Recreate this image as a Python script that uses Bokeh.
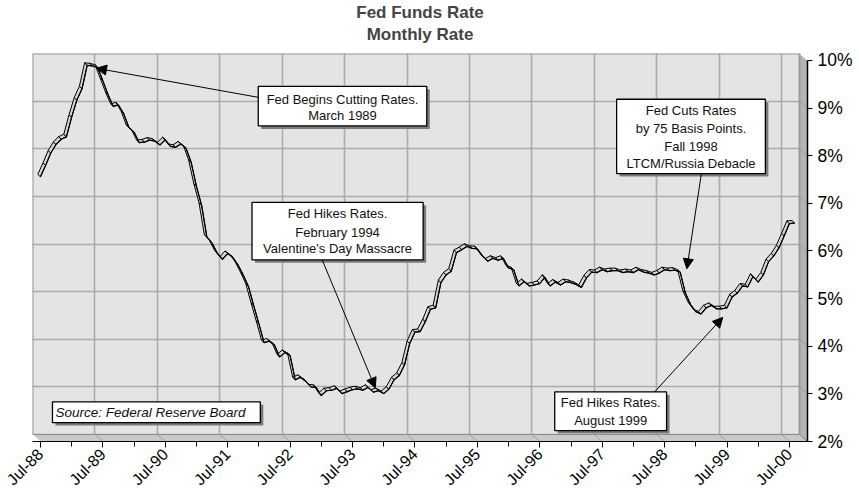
import math
from bokeh.plotting import figure
from bokeh.models import Range1d, LinearAxis, FixedTicker, Grid, Arrow, NormalHead, Title
from bokeh.core.properties import value
from bokeh.embed import file_html
from bokeh.resources import INLINE

# ---------------- data ----------------
# Monthly Fed Funds rate (%), one value per month starting Jun-1988
rates_1988 = [7.51, 7.75, 8.01, 8.19, 8.30, 8.35, 8.76]
rates_1989 = [9.12, 9.36, 9.85, 9.84, 9.81, 9.53, 9.24, 8.99, 9.02, 8.84, 8.55, 8.45]
rates_1990 = [8.23, 8.24, 8.28, 8.26, 8.18, 8.29, 8.15, 8.13, 8.20, 8.11, 7.81, 7.31]
rates_1991 = [6.91, 6.25, 6.12, 5.91, 5.78, 5.90, 5.82, 5.66, 5.45, 5.21, 4.81, 4.43]
rates_1992 = [4.03, 4.06, 3.98, 3.73, 3.82, 3.76, 3.25, 3.30, 3.22, 3.10, 3.09, 2.92]
rates_1993 = [3.02, 3.03, 3.07, 2.96, 3.00, 3.04, 3.06, 3.03, 3.09, 2.99, 3.02, 2.96]
rates_1994 = [3.05, 3.25, 3.34, 3.56, 4.01, 4.25, 4.26, 4.47, 4.73, 4.76, 5.29, 5.45]
rates_1995 = [5.53, 5.92, 5.98, 6.05, 6.01, 6.00, 5.85, 5.74, 5.80, 5.76, 5.80, 5.60]
rates_1996 = [5.56, 5.22, 5.31, 5.22, 5.24, 5.27, 5.40, 5.22, 5.30, 5.24, 5.31, 5.29]
rates_1997 = [5.25, 5.19, 5.39, 5.51, 5.50, 5.56, 5.52, 5.54, 5.54, 5.50, 5.52, 5.50]
rates_1998 = [5.56, 5.51, 5.49, 5.45, 5.49, 5.56, 5.54, 5.55, 5.51, 5.07, 4.83, 4.68]
rates_1999 = [4.63, 4.76, 4.81, 4.74, 4.74, 4.76, 4.99, 5.07, 5.22, 5.20, 5.42, 5.30]
rates_2000 = [5.45, 5.73, 5.85, 6.02, 6.27, 6.53, 6.54]

rates = (rates_1988 + rates_1989 + rates_1990 + rates_1991 + rates_1992 + rates_1993 +
         rates_1994 + rates_1995 + rates_1996 + rates_1997 + rates_1998 + rates_1999 + rates_2000)

x_tick_labels = ["Jul-88", "Jul-89", "Jul-90", "Jul-91", "Jul-92", "Jul-93", "Jul-94",
                 "Jul-95", "Jul-96", "Jul-97", "Jul-98", "Jul-99", "Jul-00"]
y_ticks = [2, 3, 4, 5, 6, 7, 8, 9, 10]
y_tick_labels = ["2%", "3%", "4%", "5%", "6%", "7%", "8%", "9%", "10%"]

title_main = "Fed Funds Rate"
title_sub = "Monthly Rate"
source_text = "Source: Federal Reserve Board"

# annotation callouts (data coordinates: month index, rate)
callouts = [
    dict(lines=["Fed Begins Cutting Rates.", "March 1989"],
         box=(43.4, 75.8, 9.31, 8.48), line_y=[9.04, 8.69],
         arrow=(43.4, 9.08, 12.3, 9.69)),
    dict(lines=["Fed Hikes Rates.", "February 1994", "Valentine's Day Massacre"],
         box=(42.2, 75.1, 6.875, 5.667), line_y=[6.646, 6.25, 5.896],
         arrow=(55.7, 5.667, 65.9, 2.98)),
    dict(lines=["Fed Cuts Rates", "by 75 Basis Points.", "Fall 1998", "LTCM/Russia Debacle"],
         box=(112.3, 140.9, 9.04, 7.48), line_y=[8.81, 8.42, 8.04, 7.69],
         arrow=(128.6, 7.48, 125.8, 5.48)),
    dict(lines=["Fed Hikes Rates.", "August 1999"],
         box=(100.4, 121.9, 2.896, 2.083), line_y=[2.667, 2.292],
         arrow=(119.6, 2.896, 132.7, 4.46)),
]
source_box = (3.84, 43.8, 2.6875, 2.25)

# ---------------- geometry / style ----------------
FONT = "Liberation Sans"
PPX = 62.5 / 12.0      # px per month
PPY = 48.0             # px per percent
WALL_R = 147.46        # right edge of back wall (months)
DX = 8 / PPX           # 3-D depth in x (data units)
DY = 7 / PPY           # 3-D depth in y (data units)
X_END = WALL_R + DX
Y_MIN, Y_MAX = 2.0, 10.0
Y0 = Y_MIN - DY

FRAME_W = int(round(X_END * PPX))
FRAME_H = int(round((Y_MAX - Y0) * PPY))
W, H = 855, 497
BL, BT = 32, 51

p = figure(width=W, height=H, title=None,
           x_range=Range1d(0, X_END), y_range=Range1d(Y0, Y_MAX),
           x_axis_location=None, y_axis_location=None,
           output_backend="svg", toolbar_location=None,
           min_border_left=BL, min_border_top=BT,
           min_border_right=W - BL - FRAME_W, min_border_bottom=H - BT - FRAME_H,
           background_fill_color="#e4e4e4", border_fill_color="white",
           outline_line_color=None)

p.extra_x_ranges = {"front": Range1d(-DX, X_END - DX)}
p.extra_y_ranges = {"front": Range1d(Y0 + DY, Y_MAX + DY)}

x_ticks = [12 * k for k in range(len(x_tick_labels))]
x_minor = [t + 6 for t in x_ticks[:-1]]

p.add_layout(Grid(dimension=0, ticker=FixedTicker(ticks=x_ticks),
                  grid_line_color="#ababab", grid_line_width=1.6))
p.add_layout(Grid(dimension=1, ticker=FixedTicker(ticks=y_ticks),
                  grid_line_color="#ababab", grid_line_width=1.6))

# 3-D floor and side wall
p.patch([0, WALL_R, X_END, DX], [Y_MIN, Y_MIN, Y0, Y0],
        fill_color="#c9c9c9", line_color="#8c8c8c", line_width=1)
p.patch([WALL_R, X_END, X_END, WALL_R], [Y_MAX, Y_MAX - DY, Y0, Y_MIN],
        fill_color="#b4b4b4", line_color="#8c8c8c", line_width=1)
p.segment(x0=x_ticks, y0=[Y_MIN] * len(x_ticks),
          x1=[t + DX for t in x_ticks], y1=[Y0] * len(x_ticks),
          line_color="#a0a0a0", line_width=1)
p.segment(x0=[WALL_R] * len(y_ticks), y0=y_ticks,
          x1=[X_END] * len(y_ticks), y1=[v - DY for v in y_ticks],
          line_color="#9a9a9a", line_width=1)
# white corners outside the 3-D box
p.patch([WALL_R, X_END, X_END], [Y_MAX, Y_MAX, Y_MAX - DY], fill_color="white", line_color="white")
p.patch([0, 0, DX], [Y_MIN, Y0, Y0], fill_color="white", line_color="white")
# back wall border
p.line([0, 0, WALL_R, WALL_R], [Y_MIN, Y_MAX, Y_MAX, Y_MIN], line_color="#9a9a9a", line_width=2)

# ---------------- ribbon line ----------------
mx, my = 4.0 / PPX, 3.5 / PPY      # middle depth
ax_, ay_ = 1.3 / PPX, 1.3 / PPY    # half ribbon thickness
cx = [i + 0.5 + mx for i in range(len(rates))]
cy = [v - my for v in rates]
xs, ys = [], []
for i in range(len(rates) - 1):
    xs.append([cx[i] - ax_, cx[i + 1] - ax_, cx[i + 1] + ax_, cx[i] + ax_])
    ys.append([cy[i] + ay_, cy[i + 1] + ay_, cy[i + 1] - ay_, cy[i] - ay_])
p.patches(xs, ys, fill_color="#d6d6d6", line_color="black", line_width=1)
p.line([c + ax_ for c in cx], [c - ay_ for c in cy], line_color="black", line_width=1.2)

# ---------------- callouts ----------------
SHX, SHY = 3 / PPX, 3 / PPY
def box(x0, x1, yt, yb):
    p.quad(left=x0 + SHX, right=x1 + SHX, top=yt - SHY, bottom=yb - SHY,
           fill_color="#7a7a7a", line_color=None)
    p.quad(left=x0, right=x1, top=yt, bottom=yb,
           fill_color="white", line_color="black", line_width=1.3)

for c in callouts:
    x0, x1, yt, yb = c["box"]
    xs0, ys0, xe, ye = c["arrow"]
    p.add_layout(Arrow(end=NormalHead(size=10, fill_color="black", line_color="black"),
                       x_start=xs0, y_start=ys0, x_end=xe, y_end=ye,
                       line_color="black", line_width=1))
    box(x0, x1, yt, yb)
    p.text(x=[(x0 + x1) / 2] * len(c["lines"]), y=c["line_y"], text=c["lines"],
           text_font=value(FONT), text_font_size="13px", text_align="center",
           text_baseline="middle", text_color="#111111")

sx0, sx1, syt, syb = source_box
box(sx0, sx1, syt, syb)
p.text(x=[sx0 + 0.6], y=[(syt + syb) / 2], text=[source_text],
       text_font=value(FONT), text_font_size="13.5px", text_font_style="italic",
       text_align="left", text_baseline="middle", text_color="#111111")

# ---------------- axes ----------------
xaxis = LinearAxis(x_range_name="front",
                   ticker=FixedTicker(ticks=x_ticks, minor_ticks=x_minor),
                   major_label_overrides={t: l for t, l in zip(x_ticks, x_tick_labels)},
                   major_label_orientation=math.pi / 4,
                   major_label_text_font=FONT, major_label_text_font_size="16px",
                   major_label_text_color="black", major_label_standoff=4,
                   major_tick_out=6, major_tick_in=0, minor_tick_out=5, minor_tick_in=0,
                   axis_line_color="black", major_tick_line_color="black",
                   minor_tick_line_color="black")
p.add_layout(xaxis, "below")

yaxis = LinearAxis(y_range_name="front", bounds=(Y_MIN, Y_MAX),
                   ticker=FixedTicker(ticks=y_ticks, minor_ticks=[]),
                   major_label_overrides={t: l for t, l in zip(y_ticks, y_tick_labels)},
                   major_label_text_font=FONT, major_label_text_font_size="17.5px",
                   major_label_text_color="black", major_label_standoff=5,
                   major_tick_out=5, major_tick_in=0, minor_tick_out=0,
                   axis_line_color="black", axis_line_width=1.5,
                   major_tick_line_color="black")
p.add_layout(yaxis, "right")

# ---------------- titles ----------------
# small spacer between the frame and the sub-title
p.add_layout(Title(text=" ", align="center", text_font=FONT, text_font_size="5px",
                   standoff=1), "above")
p.add_layout(Title(text=title_sub, align="center", text_font=FONT, text_font_size="17px",
                   text_font_style="bold", standoff=1), "above")
p.add_layout(Title(text=title_main, align="center", text_font=FONT, text_font_size="17px",
                   text_font_style="bold", standoff=1), "above")

open("out.html", "w").write(file_html(p, INLINE))
